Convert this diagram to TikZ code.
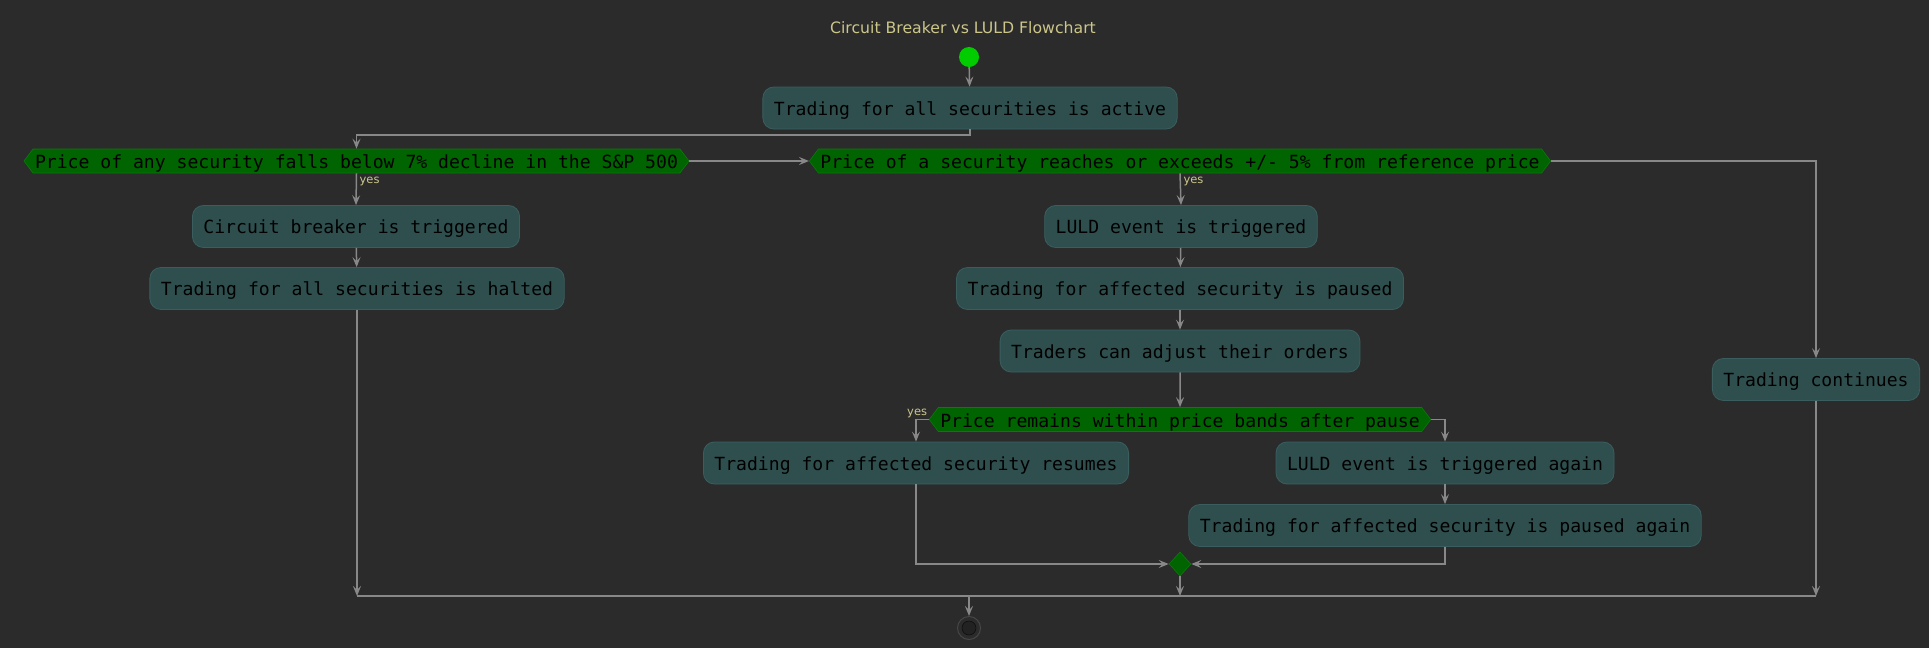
\documentclass[tikz,border=0pt]{standalone}
\usepackage{fontspec}
\usetikzlibrary{arrows.meta,shapes.symbols,shapes.geometric}
\newfontfamily\boxfont{DejaVu Sans Mono}
\newfontfamily\labfont{DejaVu Sans}
\definecolor{bgc}{HTML}{2B2B2B}
\definecolor{boxfill}{HTML}{2F4F4F}
\definecolor{boxline}{HTML}{3A5E5E}
\definecolor{decfill}{HTML}{006400}
\definecolor{decedge}{HTML}{0B7A0B}
\definecolor{linec}{HTML}{888888}
\definecolor{khaki}{HTML}{CCC68A}
\definecolor{startc}{HTML}{00CC00}
\definecolor{stopring}{HTML}{474747}
\definecolor{stopin}{HTML}{222222}
\begin{document}
\begin{tikzpicture}[x=1pt,y=-1pt,
  actbox/.style={rectangle, rounded corners=11pt, fill=boxfill, draw=boxline, line width=0.8pt,
    font=\boxfont\fontsize{18.1}{20}\selectfont, text=black, inner xsep=11pt, inner ysep=0pt,
    text height=16pt, text depth=2pt, minimum height=42pt},
  decbox/.style={signal, signal to=west and east, signal pointer angle=106, fill=decfill,
    draw=decedge, line width=0.6pt, font=\boxfont\fontsize{18.1}{20}\selectfont, text=black,
    inner xsep=2pt, inner ysep=3pt, text height=16.5pt, text depth=1.5pt, minimum height=24pt},
  flow/.style={draw=linec, line width=1.5pt, -{Stealth[length=10pt,width=8pt,inset=4pt]}},
  ylab/.style={font=\labfont\fontsize{11.5}{13}\selectfont, text=khaki, inner sep=1pt}
]
\useasboundingbox[fill=bgc] (0,0) rectangle (1929,648);

\node[font=\labfont\fontsize{15.7}{18}\selectfont, text=khaki] (title) at (963,28) {Circuit Breaker vs LULD Flowchart};
\node[circle, fill=startc, minimum size=20pt, inner sep=0pt] (start) at (969,57) {};
\node[actbox] (act) at (970,108) {Trading for all securities is active};
\node[decbox] (d1) at (356.5,161) {Price of any security falls below 7\% decline in the S\&P 500};
\node[decbox] (d2) at (1180,161) {Price of a security reaches or exceeds +/- 5\% from reference price};
\node[actbox] (cb) at (356,226.5) {Circuit breaker is triggered};
\node[actbox] (halt) at (357,288.5) {Trading for all securities is halted};
\node[actbox] (luld) at (1181,226.5) {LULD event is triggered};
\node[actbox] (paus) at (1180,288.5) {Trading for affected security is paused};
\node[actbox] (trad) at (1180,351) {Traders can adjust their orders};
\node[decbox] (d3) at (1180,419.5) {Price remains within price bands after pause};
\node[actbox] (res) at (916,463) {Trading for affected security resumes};
\node[actbox] (again) at (1445,463) {LULD event is triggered again};
\node[actbox] (pagain) at (1445,525.5) {Trading for affected security is paused again};
\node[diamond, fill=decfill, draw=decedge, line width=0.6pt, minimum width=22pt, minimum height=24pt, inner sep=0pt] (merge) at (1180,564) {};
\node[actbox] (cont) at (1816,379.5) {Trading continues};
\coordinate (barL) at (357,596);
\coordinate (barR) at (1816,596);
\node[circle, draw=stopring, line width=1pt, minimum size=23pt, inner sep=0pt] (stop) at (969,628) {};
\fill[stopin, draw=black!70!stopin, line width=0.5pt] (stop.center) circle (7pt);

\draw[flow] (start) -- (act);
\draw[flow] (act.south) -- ++(0,5.5) -| (d1.north);
\draw[flow] (d1.east) -- (d2.west);
\draw[flow] (d1.south) -- node[ylab, pos=0.25, anchor=west, xshift=1.5pt] (y1) {yes} (cb.north);
\draw[flow] (cb) -- (halt);
\draw[flow] (halt.south) -- (halt.south |- barL);
\draw[flow] (d2.east) -| (cont.north);
\draw[flow] (d2.south) -- node[ylab, pos=0.25, anchor=west, xshift=1.5pt] (y2) {yes} (luld.north);
\draw[flow] (luld) -- (paus);
\draw[flow] (paus) -- (trad);
\draw[flow] (trad) -- (d3);
\draw[flow] (d3.west) node[ylab, anchor=south east] (y3) {yes} -| (res.north);
\draw[flow] (d3.east) -| (again.north);
\draw[flow] (again) -- (pagain);
\draw[flow] (res.south) |- (merge.west);
\draw[flow] (pagain.south) |- (merge.east);
\draw[flow] (merge.south) -- (merge.south |- barL);
\draw[flow] (cont.south) -- (barR);
\draw[linec, line width=2pt] (barL) -- (barR);
\draw[flow] (stop.north |- barL) -- (stop.north);
\end{tikzpicture}
\end{document}
